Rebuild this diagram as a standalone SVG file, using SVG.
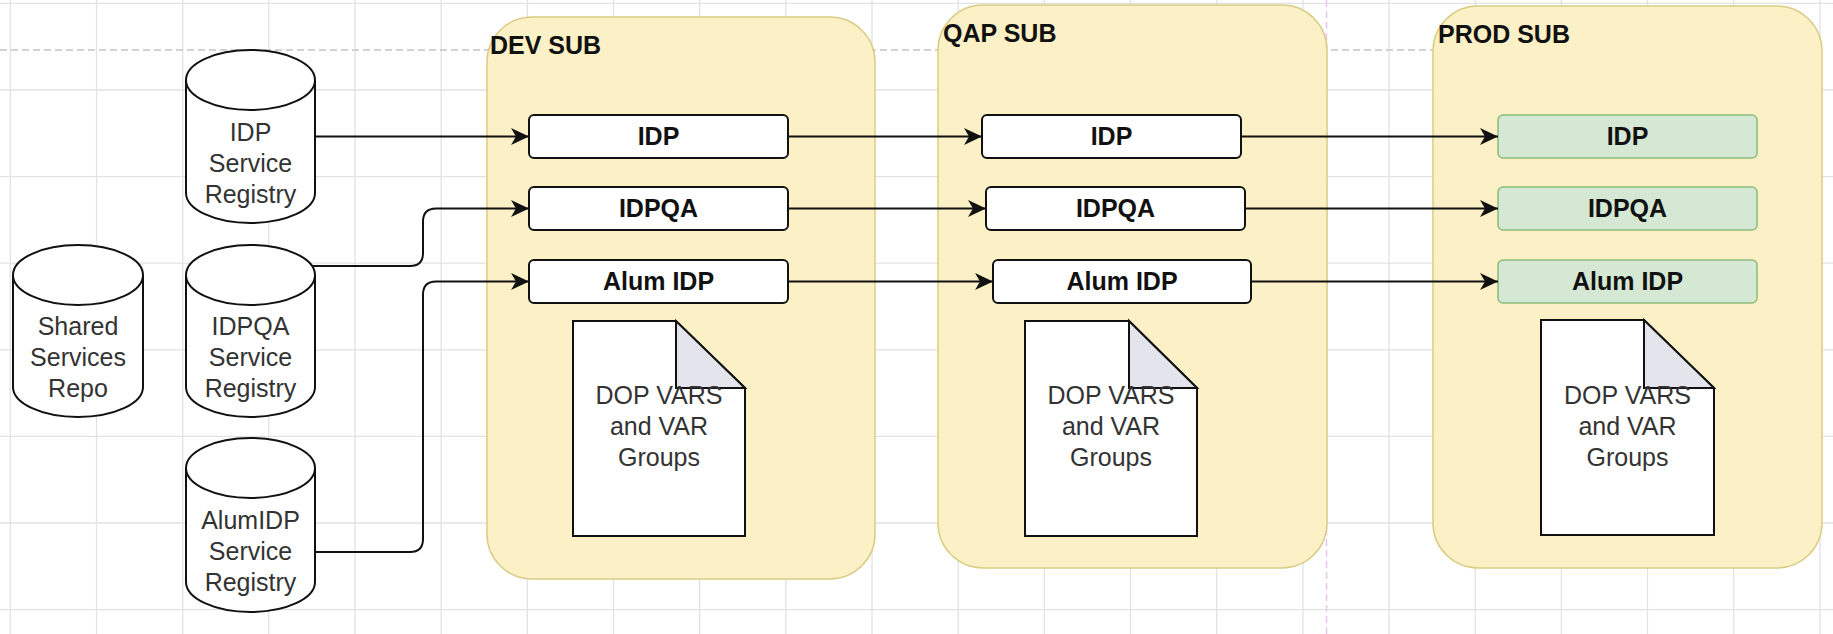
<svg xmlns="http://www.w3.org/2000/svg" width="1833" height="634" viewBox="0 0 1833 634">
<style>
.grid line{stroke:#e2e2e2;stroke-width:1.3}
.cont{fill:#fcf0c6;stroke:#d9cd85;stroke-width:1.5}
.title{font-family:"Liberation Sans",Arial,sans-serif;font-size:25px;font-weight:bold;fill:#111}
.box{fill:#fff;stroke:#111;stroke-width:2}
.gbox{fill:#d5e8d4;stroke:#8cbc7c;stroke-width:1.5}
.bt{font-family:"Liberation Sans",Arial,sans-serif;font-size:25px;font-weight:bold;fill:#111;text-anchor:middle}
.nt{font-family:"Liberation Sans",Arial,sans-serif;font-size:25px;fill:#333;text-anchor:middle}
.shape{fill:#fff;stroke:#111;stroke-width:2}
.fold{fill:#e4e4ec;stroke:#111;stroke-width:2}
.edge{fill:none;stroke:#111;stroke-width:2;marker-end:url(#arr)}
</style>
<defs>
<marker id="arr" markerUnits="userSpaceOnUse" markerWidth="18" markerHeight="17" refX="18" refY="8.5" orient="auto">
<path d="M0,0 L18,8.5 L0,17 L5,8.5 Z" fill="#111"/>
</marker>
</defs>
<rect width="1833" height="634" fill="#fff"/>
<g class="grid">
<line x1="10.3" y1="0" x2="10.3" y2="634"/>
<line x1="96.5" y1="0" x2="96.5" y2="634"/>
<line x1="182.7" y1="0" x2="182.7" y2="634"/>
<line x1="268.8" y1="0" x2="268.8" y2="634"/>
<line x1="355" y1="0" x2="355" y2="634"/>
<line x1="441.2" y1="0" x2="441.2" y2="634"/>
<line x1="527.4" y1="0" x2="527.4" y2="634"/>
<line x1="613.5" y1="0" x2="613.5" y2="634"/>
<line x1="699.7" y1="0" x2="699.7" y2="634"/>
<line x1="785.9" y1="0" x2="785.9" y2="634"/>
<line x1="872" y1="0" x2="872" y2="634"/>
<line x1="958.2" y1="0" x2="958.2" y2="634"/>
<line x1="1044.4" y1="0" x2="1044.4" y2="634"/>
<line x1="1130.5" y1="0" x2="1130.5" y2="634"/>
<line x1="1216.7" y1="0" x2="1216.7" y2="634"/>
<line x1="1302.9" y1="0" x2="1302.9" y2="634"/>
<line x1="1389" y1="0" x2="1389" y2="634"/>
<line x1="1475.2" y1="0" x2="1475.2" y2="634"/>
<line x1="1561.4" y1="0" x2="1561.4" y2="634"/>
<line x1="1647.5" y1="0" x2="1647.5" y2="634"/>
<line x1="1733.7" y1="0" x2="1733.7" y2="634"/>
<line x1="1819.9" y1="0" x2="1819.9" y2="634"/>
<line x1="0" y1="3.4" x2="1833" y2="3.4"/>
<line x1="0" y1="90" x2="1833" y2="90"/>
<line x1="0" y1="176.6" x2="1833" y2="176.6"/>
<line x1="0" y1="263.2" x2="1833" y2="263.2"/>
<line x1="0" y1="349.8" x2="1833" y2="349.8"/>
<line x1="0" y1="436.4" x2="1833" y2="436.4"/>
<line x1="0" y1="523" x2="1833" y2="523"/>
<line x1="0" y1="609.6" x2="1833" y2="609.6"/>
</g>
<line x1="0" y1="50" x2="1440" y2="50" stroke="#c4c4c4" stroke-width="1.5" stroke-dasharray="7,4"/>
<line x1="1326.5" y1="0" x2="1326.5" y2="634" stroke="#e6c6ee" stroke-width="1.5" stroke-dasharray="7,4"/>

<g id="dev-sub">
<rect class="cont" x="487" y="17" width="388" height="562" rx="45"/>
<text class="title" x="490" y="54">DEV SUB</text>
</g>
<g id="qap-sub">
<rect class="cont" x="938" y="5" width="389" height="563" rx="45"/>
<text class="title" x="943" y="42">QAP SUB</text>
</g>
<g id="prod-sub">
<rect class="cont" x="1433" y="6" width="389" height="562" rx="45"/>
<text class="title" x="1438" y="43">PROD SUB</text>
</g>

<g id="idp-registry" transform="translate(186,50)">
<path class="shape" d="M0,30 A64.5,30 0 0 1 129,30 L129,143 A64.5,30 0 0 1 0,143 Z"/>
<path class="shape" d="M0,30 A64.5,30 0 0 0 129,30" fill="none"/>
<text class="nt" x="64.5" y="91">IDP</text>
<text class="nt" x="64.5" y="122">Service</text>
<text class="nt" x="64.5" y="153">Registry</text>
</g>
<g id="shared-repo" transform="translate(13,245)">
<path class="shape" d="M0,30 A65,30 0 0 1 130,30 L130,142 A65,30 0 0 1 0,142 Z"/>
<path class="shape" d="M0,30 A65,30 0 0 0 130,30" fill="none"/>
<text class="nt" x="65" y="90">Shared</text>
<text class="nt" x="65" y="121">Services</text>
<text class="nt" x="65" y="152">Repo</text>
</g>
<g id="idpqa-registry" transform="translate(186,245)">
<path class="shape" d="M0,30 A64.5,30 0 0 1 129,30 L129,142 A64.5,30 0 0 1 0,142 Z"/>
<path class="shape" d="M0,30 A64.5,30 0 0 0 129,30" fill="none"/>
<text class="nt" x="64.5" y="90">IDPQA</text>
<text class="nt" x="64.5" y="121">Service</text>
<text class="nt" x="64.5" y="152">Registry</text>
</g>
<g id="alumidp-registry" transform="translate(186,438)">
<path class="shape" d="M0,30 A64.5,30 0 0 1 129,30 L129,144 A64.5,30 0 0 1 0,144 Z"/>
<path class="shape" d="M0,30 A64.5,30 0 0 0 129,30" fill="none"/>
<text class="nt" x="64.5" y="91">AlumIDP</text>
<text class="nt" x="64.5" y="122">Service</text>
<text class="nt" x="64.5" y="153">Registry</text>
</g>

<g id="dev-idp"><rect class="box" x="529" y="115" width="259" height="43" rx="5"/><text class="bt" x="658.5" y="145">IDP</text></g>
<g id="dev-idpqa"><rect class="box" x="529" y="187" width="259" height="43" rx="5"/><text class="bt" x="658.5" y="217">IDPQA</text></g>
<g id="dev-alum"><rect class="box" x="529" y="260" width="259" height="43" rx="5"/><text class="bt" x="658.5" y="290">Alum IDP</text></g>
<g id="dev-doc" transform="translate(573,321)">
<path class="shape" d="M0,0 H103 L172,67 V215 H0 Z"/>
<path class="fold" d="M103,0 V67 H172 Z"/>
<text class="nt" x="86" y="83">DOP VARS</text>
<text class="nt" x="86" y="114">and VAR</text>
<text class="nt" x="86" y="145">Groups</text>
</g>

<g id="qap-idp"><rect class="box" x="982" y="115" width="259" height="43" rx="5"/><text class="bt" x="1111.5" y="145">IDP</text></g>
<g id="qap-idpqa"><rect class="box" x="986" y="187" width="259" height="43" rx="5"/><text class="bt" x="1115.5" y="217">IDPQA</text></g>
<g id="qap-alum"><rect class="box" x="993" y="260" width="258" height="43" rx="5"/><text class="bt" x="1122" y="290">Alum IDP</text></g>
<g id="qap-doc" transform="translate(1025,321)">
<path class="shape" d="M0,0 H104 L172,67 V215 H0 Z"/>
<path class="fold" d="M104,0 V67 H172 Z"/>
<text class="nt" x="86" y="83">DOP VARS</text>
<text class="nt" x="86" y="114">and VAR</text>
<text class="nt" x="86" y="145">Groups</text>
</g>

<g id="prod-idp"><rect class="gbox" x="1498" y="115" width="259" height="43" rx="5"/><text class="bt" x="1627.5" y="145">IDP</text></g>
<g id="prod-idpqa"><rect class="gbox" x="1498" y="187" width="259" height="43" rx="5"/><text class="bt" x="1627.5" y="217">IDPQA</text></g>
<g id="prod-alum"><rect class="gbox" x="1498" y="260" width="259" height="43" rx="5"/><text class="bt" x="1627.5" y="290">Alum IDP</text></g>
<g id="prod-doc" transform="translate(1541,320)">
<path class="shape" d="M0,0 H103 L173,68 V215 H0 Z"/>
<path class="fold" d="M103,0 V68 H173 Z"/>
<text class="nt" x="86.5" y="84">DOP VARS</text>
<text class="nt" x="86.5" y="115">and VAR</text>
<text class="nt" x="86.5" y="146">Groups</text>
</g>

<g id="connectors">
<path class="edge" d="M315,136.5 H529"/>
<path class="edge" d="M313,266 H410 Q423,266 423,253 V221.5 Q423,208.5 436,208.5 H529"/>
<path class="edge" d="M315,552 H410 Q423,552 423,539 V294.5 Q423,281.5 436,281.5 H529"/>
<path class="edge" d="M788,136.5 H982"/>
<path class="edge" d="M788,208.5 H986"/>
<path class="edge" d="M788,281.5 H993"/>
<path class="edge" d="M1241,136.5 H1498"/>
<path class="edge" d="M1245,208.5 H1498"/>
<path class="edge" d="M1251,281.5 H1498"/>
</g>
</svg>
